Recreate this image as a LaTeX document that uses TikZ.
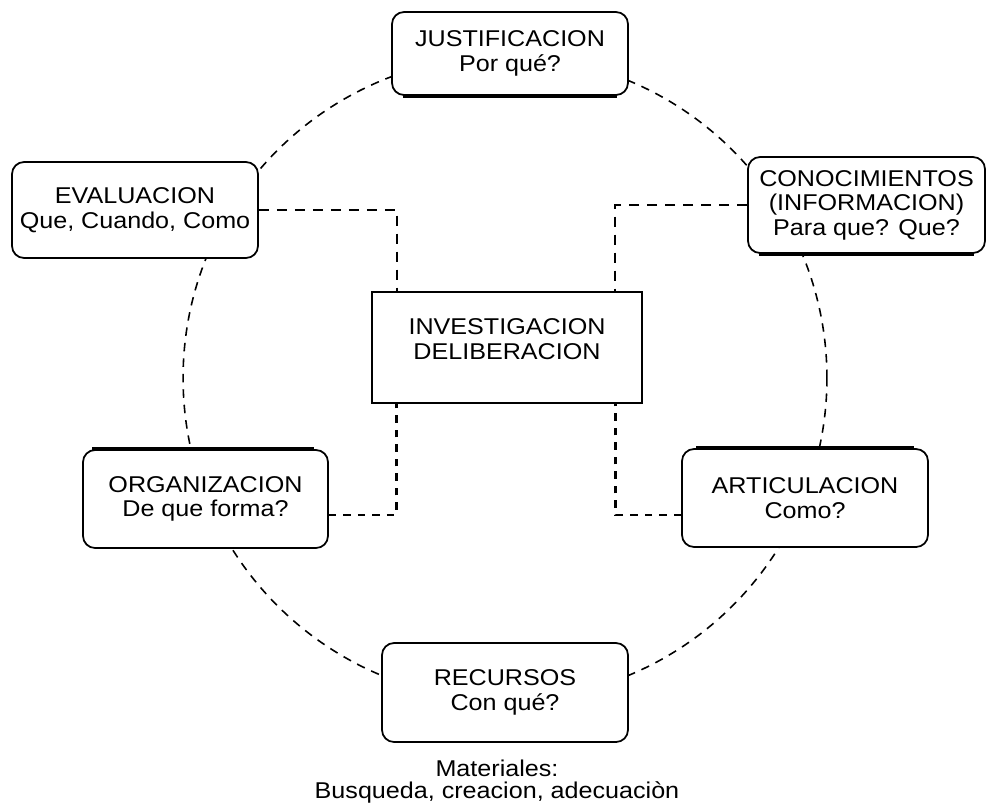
\documentclass[tikz,border=0pt]{standalone}
\usepackage{fontspec}
\setmainfont{Liberation Sans}[FakeStretch=1.1]
\begin{document}
\begin{tikzpicture}[x=0.02cm,y=-0.02cm,
  every node/.style={font=\fontsize{13}{14}\selectfont},
  rbox/.style={draw,line width=1pt,rounded corners=0.24cm,fill=white,align=center,inner sep=1pt},
  sbox/.style={draw,line width=1pt,fill=white,align=center},
  thickedge/.style={line width=2.2pt},
  upconn/.style={line width=0.8pt,dash pattern=on 0.2cm off 0.16cm},
  loconn/.style={line width=1.6pt,dash pattern=on 0.15cm off 0.14cm},
  ring/.style={line width=0.9pt,dash pattern=on 0.17cm off 0.14cm}]
\useasboundingbox (0,0) rectangle (989,802);
\coordinate (ctr) at (505,378);
\draw[ring] (ctr) circle[radius=6.44cm];

\node[rbox,minimum width=4.72cm,minimum height=1.66cm] (jus) at (510,53.5) {JUSTIFICACION\\Por qué?};
\node[rbox,minimum width=4.92cm,minimum height=1.92cm] (eva) at (135,210) {EVALUACION\\Que, Cuando, Como};
\node[rbox,minimum width=4.74cm,minimum height=1.92cm] (con) at (866.5,205) {CONOCIMIENTOS\\(INFORMACION)\\Para que? Que?};
\node[sbox,minimum width=5.4cm,minimum height=2.22cm,text depth=0.35cm] (inv) at (507,347.5) {INVESTIGACION\\DELIBERACION};
\node[rbox,minimum width=4.9cm,minimum height=1.96cm] (org) at (205.5,499) {ORGANIZACION\\De que forma?};
\node[rbox,minimum width=4.92cm,minimum height=1.96cm] (art) at (805,498) {ARTICULACION\\Como?};
\node[rbox,minimum width=4.92cm,minimum height=1.98cm] (rec) at (505,692.5) {RECURSOS\\Con qué?};
\node[align=center,inner sep=0pt,font=\fontsize{13}{12.5}\selectfont] (mat) at (497,782) {Materiales:\\Busqueda, creacion, adecuaciòn};

\draw[thickedge] ([xshift=0.24cm]jus.south west) -- ([xshift=-0.24cm]jus.south east);
\draw[thickedge] ([xshift=0.24cm]con.south west) -- ([xshift=-0.24cm]con.south east);
\draw[thickedge] ([xshift=0.2cm]org.north west) -- ([xshift=-0.3cm]org.north east);
\draw[thickedge] ([xshift=0.3cm]art.north west) -- ([xshift=-0.3cm]art.north east);

\draw[upconn] (eva.east) -| ([xshift=0.52cm]inv.north west);
\draw[upconn] (con.west) -| ([xshift=-0.56cm]inv.north east);
\draw[loconn] ([yshift=-0.32cm]org.east) -| ([xshift=0.5cm]inv.south west);
\draw[loconn] ([yshift=-0.34cm]art.west) -| ([xshift=-0.54cm]inv.south east);
\end{tikzpicture}
\end{document}
